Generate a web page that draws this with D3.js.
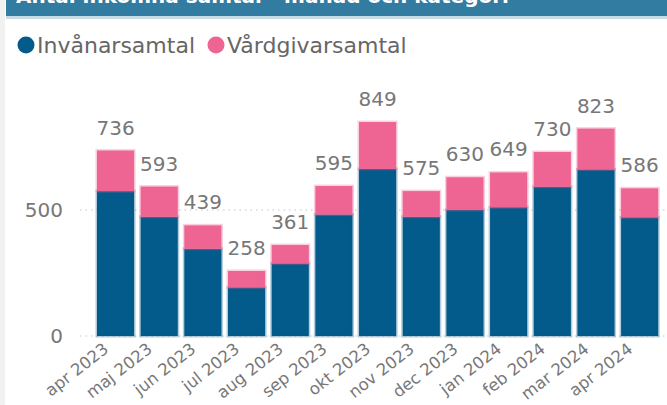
<!DOCTYPE html>
<html>
<head>
<meta charset="utf-8">
<script src="https://cdn.jsdelivr.net/npm/d3@7"></script>
<style>
  body { margin: 0; background: #fff; }
  svg { display: block; }
</style>
</head>
<body>
<div id="chart"></div>
<script>
const months = ['apr 2023', 'maj 2023', 'jun 2023', 'jul 2023', 'aug 2023', 'sep 2023', 'okt 2023',
  'nov 2023', 'dec 2023', 'jan 2024', 'feb 2024', 'mar 2024', 'apr 2024']
const invanare = [575, 473, 346, 193, 288, 482, 663, 473, 500, 511, 592, 661, 471]
const vardgivare = [161, 120, 93, 65, 73, 113, 186, 102, 130, 138, 138, 162, 115]
const seriesNames = ['Invånarsamtal', 'Vårdgivarsamtal']
const seriesColors = ['#025b8a', '#ee6593']
const yTicks = [0, 500]

const width = 667
const height = 405

const svg = d3.select('#chart')
  .append('svg')
  .attr('width', width)
  .attr('height', height)

// left page edge
svg.append('rect').attr('x', 0).attr('y', 0).attr('width', 5).attr('height', height).attr('fill', '#f1f1f1')

// title band (cut off at top)
svg.append('rect').attr('x', 6).attr('y', 0).attr('width', width - 6).attr('height', 16).attr('fill', '#327ca2')
svg.append('rect').attr('x', 6).attr('y', 16).attr('width', width - 6).attr('height', 3).attr('fill', '#c6dbe4')
svg.append('text')
  .attr('x', 16)
  .attr('y', 3)
  .attr('fill', '#fff')
  .style('font-family', 'DejaVu Sans')
  .style('font-size', '20px')
  .style('font-weight', 'bold')
  .text('Antal inkomna samtal  -  månad och kategori')

// legend
const legend = svg.append('g').style('font-family', 'DejaVu Sans').style('font-size', '22px')
const legendX = [26, 216]
seriesNames.forEach((name, i) => {
  legend.append('circle').attr('cx', legendX[i]).attr('cy', 45).attr('r', 8.5).attr('fill', seriesColors[i])
  legend.append('text').attr('x', legendX[i] + 11).attr('y', 53).attr('fill', '#666').text(name)
})

const data = months.map((m, i) => ({ month: m, a: invanare[i], b: vardgivare[i], total: invanare[i] + vardgivare[i] }))

const x = d3.scaleBand()
  .domain(months)
  .range([93.7, 661.5])
  .paddingInner(0.15)
  .paddingOuter(0.075)

const y = d3.scaleLinear()
  .domain([0, 1000])
  .range([336, 84])

// grid + y labels
const grid = svg.append('g')
grid.selectAll('line')
  .data(yTicks)
  .join('line')
  .attr('x1', 80)
  .attr('x2', width)
  .attr('y1', d => y(d))
  .attr('y2', d => y(d))
  .attr('stroke', '#d8d8d8')
  .attr('stroke-width', 1.5)
  .attr('stroke-dasharray', '1.5,4')

grid.selectAll('text')
  .data(yTicks)
  .join('text')
  .attr('x', 63)
  .attr('y', d => y(d) + 7)
  .attr('text-anchor', 'end')
  .attr('fill', '#777')
  .style('font-family', 'DejaVu Sans')
  .style('font-size', '20px')
  .text(d => d)

const stack = d3.stack().keys(['a', 'b'])(data)

svg.append('g')
  .selectAll('g')
  .data(stack)
  .join('g')
  .attr('fill', (d, i) => seriesColors[i])
  .attr('stroke', (d, i) => seriesColors[i])
  .attr('stroke-opacity', 0.3)
  .attr('stroke-width', 3)
  .selectAll('rect')
  .data(d => d)
  .join('rect')
  .attr('x', d => x(d.data.month))
  .attr('width', x.bandwidth())
  .attr('y', d => y(d[1]))
  .attr('height', d => y(d[0]) - y(d[1]))

// total labels
svg.append('g')
  .selectAll('text')
  .data(data)
  .join('text')
  .attr('x', d => x(d.month) + x.bandwidth() / 2)
  .attr('y', d => y(d.total) - 16)
  .attr('text-anchor', 'middle')
  .attr('fill', '#777')
  .style('font-family', 'DejaVu Sans')
  .style('font-size', '20px')
  .text(d => d.total)

// x axis labels
svg.append('g')
  .selectAll('text')
  .data(months)
  .join('text')
  .attr('transform', d => `translate(${x(d) + x.bandwidth() / 2 - 6},${351}) rotate(-38)`)
  .attr('text-anchor', 'end')
  .attr('fill', '#777')
  .style('font-family', 'DejaVu Sans')
  .style('font-size', '16.5px')
  .text(d => d)
</script>
</body>
</html>
